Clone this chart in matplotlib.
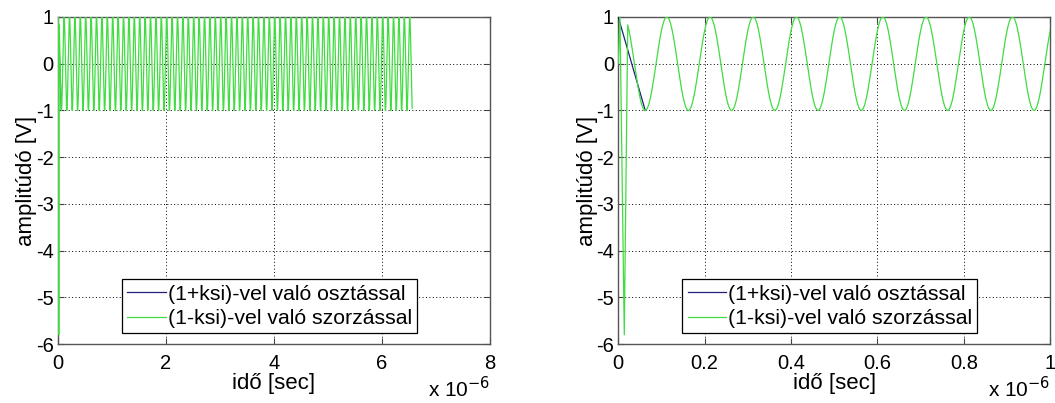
import numpy as np
import matplotlib.pyplot as plt

plt.rcParams['font.family'] = ['Liberation Sans', 'DejaVu Sans']
plt.rcParams['axes.unicode_minus'] = False

# time axis is in units of 1e-6 s
period = 0.1          # period of the steady sine
first_trough = 0.0625  # position of the first minimum
t_end = 6.56          # end of the green signal

# start-up transient of the green signal (time, value)
trans_t = [0.0, 0.004, 0.014, 0.022]
trans_v = [0.0, 1.0, -5.8, 0.83]

# blue signal: only the first half period
blue_t = [0.0, 0.0625]
blue_v = [1.0, -1.0]

left_xticks = [0, 2, 4, 6, 8]
right_xticks = [0, 0.2, 0.4, 0.6, 0.8, 1]
yticks = [-6, -5, -4, -3, -2, -1, 0, 1]

labels = ["(1+ksi)-vel való osztással", "(1-ksi)-vel való szorzással"]

# steady part of the green signal
t_ss = np.arange(0.025, t_end, period / 40)
v_ss = -np.cos(2 * np.pi * (t_ss - first_trough) / period)
green_t = np.concatenate([trans_t, t_ss])
green_v = np.concatenate([trans_v, v_ss])

fig = plt.figure(figsize=(10.55, 4.03), dpi=100)
axes = [fig.add_axes([0.055, 0.146, 0.4095, 0.812]),
        fig.add_axes([0.586, 0.146, 0.4095, 0.812])]

for ax, xt, xmax in zip(axes, [left_xticks, right_xticks], [8, 1]):
    ax.plot(blue_t, blue_v, color='#20207a', lw=0.9, label=labels[0], zorder=3)
    ax.plot(green_t, green_v, color='#40dc40', lw=0.9, label=labels[1], zorder=3)
    ax.set_xlim(0, xmax)
    ax.set_ylim(-6, 1)
    ax.set_xticks(xt)
    ax.set_xticklabels([('%g' % v) for v in xt])
    ax.set_yticks(yticks)
    ax.grid(True, linestyle=(0, (1, 2.5)), color='black', lw=0.7)
    ax.tick_params(direction='in', top=True, right=True, labelsize=14.5,
                   length=4, color='#444444')
    ax.tick_params(axis='x', pad=7)
    ax.tick_params(axis='y', pad=3)
    for s in ax.spines.values():
        s.set_color('#555555')
        s.set_linewidth(1.0)
    ax.set_xlabel("idő [sec]", fontsize=16, labelpad=0)
    ax.set_ylabel("amplitúdó [V]", fontsize=16, labelpad=-1)
    ax.text(1.0, -0.162, r"x 10$^{-6}$", transform=ax.transAxes,
            ha='right', va='baseline', fontsize=15)
    leg = ax.legend(loc='lower center', bbox_to_anchor=(0.49, 0.033),
                    fontsize=15.3, fancybox=False, framealpha=1,
                    edgecolor='black', handlelength=1.8, handletextpad=0.1,
                    borderpad=0.25, labelspacing=0.25, borderaxespad=0)
    leg.get_frame().set_linewidth(0.9)
    leg.set_zorder(5)

plt.savefig("out.png", dpi=100)
